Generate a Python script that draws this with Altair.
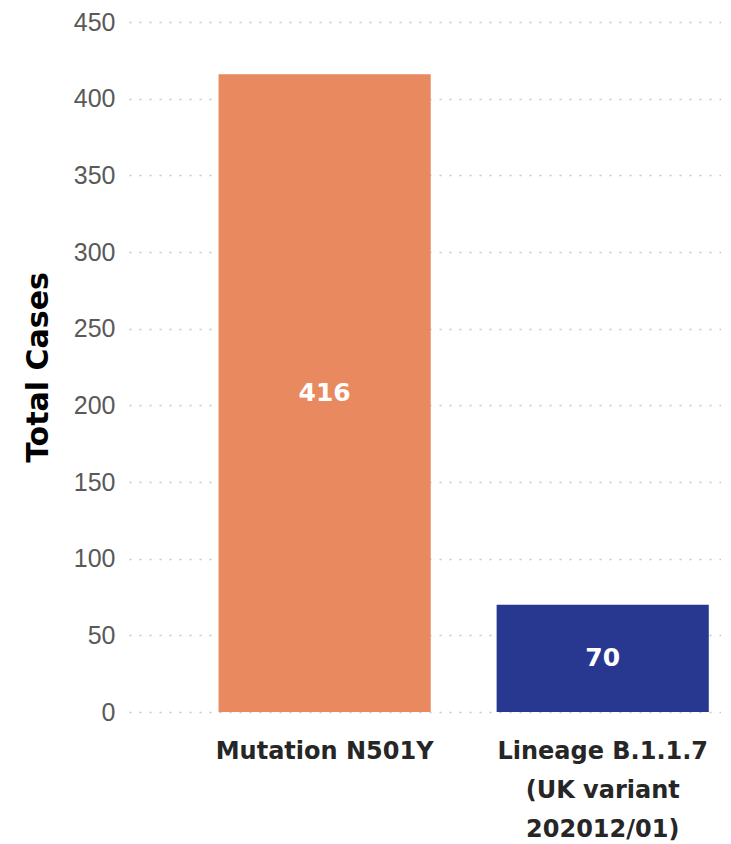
import altair as alt
import pandas as pd

categories = ["Mutation N501Y", "Lineage B.1.1.7|(UK variant|202012/01)"]
values = [416, 70]
colors = ["#E9895F", "#283890"]
y_ticks = [0, 50, 100, 150, 200, 250, 300, 350, 400, 450]

df = pd.DataFrame({"category": categories, "cases": values, "color": colors})

x = alt.X(
    "category:N",
    sort=categories,
    scale=alt.Scale(paddingInner=0.237, paddingOuter=0.183, align=0.88),
    axis=alt.Axis(
        title=None,
        labelAngle=0,
        labelExpr="split(datum.label, '|')",
        labelFont="DejaVu Sans",
        labelFontWeight="bold",
        labelFontSize=24,
        labelColor="#262626",
        labelLineHeight=39,
        labelPadding=27,
        labelBaseline="top",
        labelLimit=500,
        domain=False,
        ticks=False,
        grid=False,
    ),
)

y_axis = alt.Axis(
    title="Total Cases",
    titleFont="DejaVu Sans",
    titleFontWeight="bold",
    titleFontSize=30,
    titleColor="#000000",
    titlePadding=20,
    values=y_ticks,
    labelFont="Liberation Sans",
    labelFontSize=25,
    labelColor="#595959",
    labelPadding=14,
    domain=False,
    ticks=False,
    grid=True,
    gridColor="#c8c8c8",
    gridDash=[2, 8],
    gridWidth=1.5,
)

bars = alt.Chart(df).mark_bar().encode(
    x=x,
    y=alt.Y("cases:Q", scale=alt.Scale(domain=[0, 450], nice=False), axis=y_axis),
    color=alt.Color("color:N", scale=None),
)

labels = alt.Chart(df).transform_calculate(mid="datum.cases / 2").mark_text(
    color="white", font="DejaVu Sans", fontWeight="bold", fontSize=25, baseline="middle"
).encode(
    x=alt.X("category:N", sort=categories),
    y=alt.Y("mid:Q"),
    text=alt.Text("cases:Q"),
)

chart = (bars + labels).properties(
    width=592, height=690,
    background="white",
    padding={"left": 15, "top": 2, "right": 0, "bottom": 0},
).configure_view(strokeWidth=0, stroke="transparent")

chart.save("out.html", embed_options={"renderer": "svg", "actions": False})
